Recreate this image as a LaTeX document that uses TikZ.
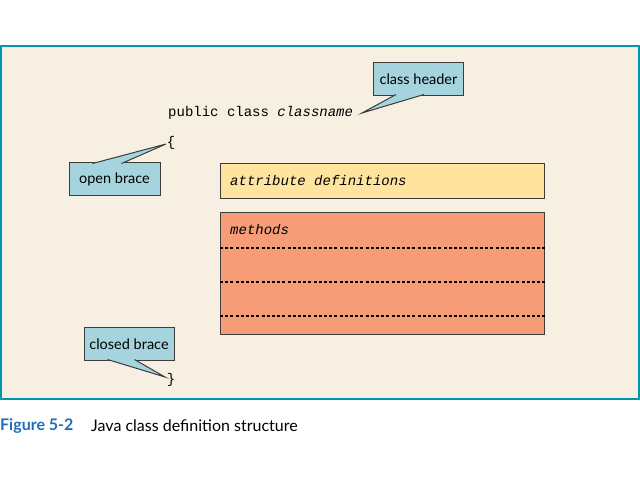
\documentclass[tikz,border=0pt]{standalone}
\usepackage{fontspec}
\setmainfont{Lato}
\setmonofont{Liberation Mono}
\usetikzlibrary{positioning}
\definecolor{mybeige}{RGB}{246,239,226}
\definecolor{myteal}{RGB}{0,150,172}
\definecolor{mycallout}{RGB}{165,212,222}
\definecolor{myattr}{RGB}{255,228,160}
\definecolor{mymethods}{RGB}{246,157,120}
\definecolor{mycaption}{RGB}{30,110,185}
\definecolor{myedge}{RGB}{60,60,60}
\newcommand{\codesize}{\fontsize{14}{16}\selectfont}
\newcommand{\boxwidth}{324pt}
\tikzset{
    code/.style={font=\ttfamily\codesize, inner sep=0pt},
    callout/.style={draw=myedge, fill=mycallout, line width=1pt, minimum height=33pt,
        inner sep=0pt, font=\fontsize{14.5}{16}\selectfont},
    pointer/.style={draw=myedge, fill=mycallout, line width=1pt, line join=miter},
    slot/.style={draw=myedge, line width=1pt, anchor=north west, minimum width=\boxwidth},
    divider/.style={line width=1.3pt, dash pattern=on 3pt off 2.2pt}
}
\begin{document}
\begin{tikzpicture}[x=1pt, y=-1pt]
    \useasboundingbox (0,0) rectangle (640,480);
    \draw[myteal, line width=2pt, fill=mybeige] (1,46) rectangle (639,399);

    \node[code, anchor=west] (header) at (168,113) {public class \textit{classname}};
    \node[code] (lbrace) at (171,143) {\{};
    \node[code] (rbrace) at (171,380) {\}};

    \coordinate (hdrtip) at (362,113);
    \coordinate (opentip) at (166,144);
    \coordinate (closetip) at (165,377);

    \node[callout, minimum width=90pt] (hdrnote) at (418.5,79) {class header};
    \filldraw[pointer] ([xshift=23pt, yshift=1.5pt]hdrnote.south west) -- (hdrtip) -- ([xshift=51pt, yshift=1.5pt]hdrnote.south west);

    \node[callout, minimum width=91pt] (opennote) at (114.5,179) {open brace};
    \filldraw[pointer] ([xshift=24pt, yshift=-1.5pt]opennote.north west) -- (opentip) -- ([xshift=53pt, yshift=-1.5pt]opennote.north west);

    \node[callout, minimum width=90pt] (closenote) at (129,344) {closed brace};
    \filldraw[pointer] ([xshift=24pt, yshift=1.5pt]closenote.south west) -- (closetip) -- ([xshift=51pt, yshift=1.5pt]closenote.south west);

    \node[slot, fill=myattr, minimum height=35pt] (attr) at (220,163) {};
    \node[code, anchor=west] (attrtext) at ([xshift=10pt]attr.west) {\textit{attribute definitions}};

    \node[slot, fill=mymethods, minimum height=122pt] (methods) at (220,212) {};
    \node[code, anchor=west] (methodstext) at ([xshift=10pt, yshift=-18pt]methods.north west) {\textit{methods}};
    \foreach \d in {36,70,104}
        \draw[divider] ([yshift=-\d pt]methods.north west) -- ([yshift=-\d pt]methods.north east);

    \node[anchor=west, inner sep=0pt, text=mycaption, font=\bfseries\fontsize{16}{18}\selectfont] (figlabel) at (0,426) {Figure 5-2};
    \node[anchor=west, inner sep=0pt, font=\fontsize{16}{18}\selectfont] (figtext) at (91,426) {Java class definition structure};
\end{tikzpicture}
\end{document}
